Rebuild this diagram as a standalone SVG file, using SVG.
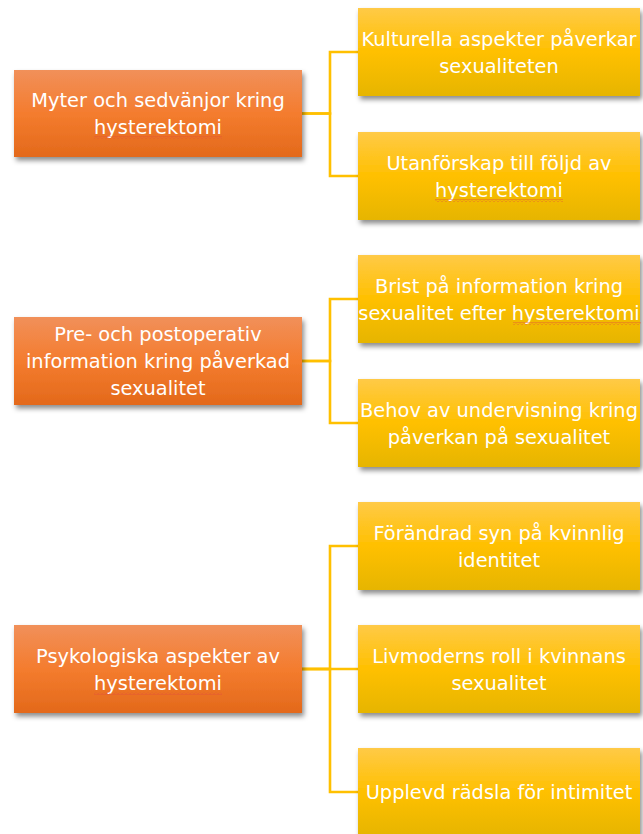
<svg xmlns="http://www.w3.org/2000/svg" width="643" height="834" viewBox="0 0 643 834">
<defs>
<linearGradient id="gOrange" x1="0" y1="0" x2="0" y2="1">
<stop offset="0" stop-color="#F1905A"/>
<stop offset="0.5" stop-color="#F47C2E"/>
<stop offset="1" stop-color="#E3691B"/>
</linearGradient>
<linearGradient id="gYellow" x1="0" y1="0" x2="0" y2="1">
<stop offset="0" stop-color="#FFCA47"/>
<stop offset="0.5" stop-color="#FFC000"/>
<stop offset="1" stop-color="#E6B500"/>
</linearGradient>
<filter id="shadow" x="-10%" y="-20%" width="125%" height="150%">
<feDropShadow dx="2" dy="3.5" stdDeviation="2.4" flood-color="#000" flood-opacity="0.45"/>
</filter>
<pattern id="squiggle" width="4" height="3" patternUnits="userSpaceOnUse">
<path d="M0 2.5 L2 0.5 L4 2.5" fill="none" stroke="#E2513A" stroke-width="0.8"/>
</pattern>
</defs>
<style>
.orange{fill:url(#gOrange);filter:url(#shadow)}
.yellow{fill:url(#gYellow);filter:url(#shadow)}
.lbl{font-family:"DejaVu Sans",sans-serif;font-size:19.4px;fill:#FFFFFF;text-anchor:middle}
.conn{fill:none;stroke:#FFC000;stroke-width:2.6}
.sq{fill:url(#squiggle)}
</style>

<g id="connectors">
<path class="conn" d="M302 113.5 H330 V52 H358"/>
<path class="conn" d="M302 113.5 H330 V176 H358"/>
<path class="conn" d="M302 361 H330 V299 H358"/>
<path class="conn" d="M302 361 H330 V423 H358"/>
<path class="conn" d="M302 669 H330 V546 H358"/>
<path class="conn" d="M302 669 H358"/>
<path class="conn" d="M302 669 H330 V792 H358"/>
</g>

<g id="myter">
<rect class="orange" x="14" y="70" width="288" height="87"/>
<text class="lbl" x="158" y="107">Myter och sedvänjor kring</text>
<text class="lbl" x="158" y="134">hysterektomi</text>
<rect class="sq" x="94" y="136" width="128" height="3"/>
</g>

<g id="kulturella">
<rect class="yellow" x="358" y="8" width="282" height="88"/>
<text class="lbl" x="499" y="46">Kulturella aspekter påverkar</text>
<text class="lbl" x="499" y="73">sexualiteten</text>
</g>

<g id="utanforskap">
<rect class="yellow" x="358" y="132" width="282" height="88"/>
<text class="lbl" x="499" y="170">Utanförskap till följd av</text>
<text class="lbl" x="499" y="197">hysterektomi</text>
<rect class="sq" x="435" y="199" width="128" height="3"/>
</g>

<g id="preop">
<rect class="orange" x="14" y="317" width="288" height="88"/>
<text class="lbl" x="158" y="341">Pre- och postoperativ</text>
<text class="lbl" x="158" y="368">information kring påverkad</text>
<text class="lbl" x="158" y="395">sexualitet</text>
</g>

<g id="brist">
<rect class="yellow" x="358" y="255" width="282" height="88"/>
<text class="lbl" x="499" y="293">Brist på information kring</text>
<text class="lbl" x="499" y="320">sexualitet efter hysterektomi</text>
<rect class="sq" x="513" y="322" width="128" height="3"/>
</g>

<g id="behov">
<rect class="yellow" x="358" y="379" width="282" height="88"/>
<text class="lbl" x="499" y="417">Behov av undervisning kring</text>
<text class="lbl" x="499" y="444">påverkan på sexualitet</text>
</g>

<g id="psykologiska">
<rect class="orange" x="14" y="625" width="288" height="88"/>
<text class="lbl" x="158" y="663">Psykologiska aspekter av</text>
<text class="lbl" x="158" y="690">hysterektomi</text>
<rect class="sq" x="94" y="692" width="128" height="3"/>
</g>

<g id="forandrad">
<rect class="yellow" x="358" y="502" width="282" height="88"/>
<text class="lbl" x="499" y="540">Förändrad syn på kvinnlig</text>
<text class="lbl" x="499" y="567">identitet</text>
</g>

<g id="livmoderns">
<rect class="yellow" x="358" y="625" width="282" height="88"/>
<text class="lbl" x="499" y="663">Livmoderns roll i kvinnans</text>
<text class="lbl" x="499" y="690">sexualitet</text>
</g>

<g id="upplevd">
<rect class="yellow" x="358" y="748" width="282" height="88"/>
<text class="lbl" x="499" y="799">Upplevd rädsla för intimitet</text>
</g>
</svg>
